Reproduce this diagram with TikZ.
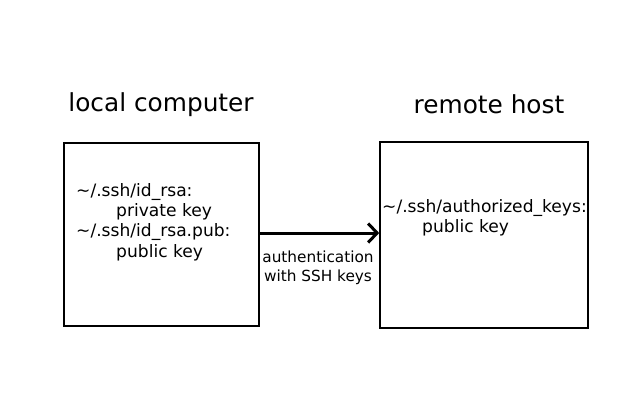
\documentclass[tikz,border=0pt]{standalone}
\usepackage{fontspec}
\setmainfont{DejaVu Sans}
\usetikzlibrary{arrows.meta}
\begin{document}
\begin{tikzpicture}[x=1pt,y=-1pt,
  hostbox/.style={draw=black,line width=1.6pt,minimum width=#1,inner sep=0pt},
  title/.style={font=\fontsize{24.8}{28}\selectfont,inner sep=0pt},
  keytext/.style={font=\fontsize{17.1}{20.3}\selectfont,align=left,inner sep=0pt,anchor=west},
  lbl/.style={font=\fontsize{15.3}{19}\selectfont,align=center,inner sep=0pt}]
\useasboundingbox[fill=white] (0,0) rectangle (640,400);
\node[hostbox=195pt,minimum height=183pt] (local) at (161.5,234.5) {};
\node[hostbox=208pt,minimum height=186pt] (remote) at (484,235) {};
\node[title] (lt) at (161,104.5) {local computer};
\node[title] (rt) at (489,104.5) {remote host};
\node[keytext] (lk) at (76,222) {\textasciitilde/.ssh/id\_rsa:\\\hspace*{40pt}private key\\\textasciitilde/.ssh/id\_rsa.pub:\\\hspace*{40pt}public key};
\node[keytext] (rk) at (382,217.5) {\textasciitilde/.ssh/authorized\_keys:\\\hspace*{40pt}public key};
\draw[line width=3pt,-{Straight Barb[length=9pt,width=19pt,line width=3pt]}] (local.east |- 0,233) -- (remote.west |- 0,233);
\node[lbl] (al) at (318,268) {authentication\\with SSH keys};
\end{tikzpicture}
\end{document}
